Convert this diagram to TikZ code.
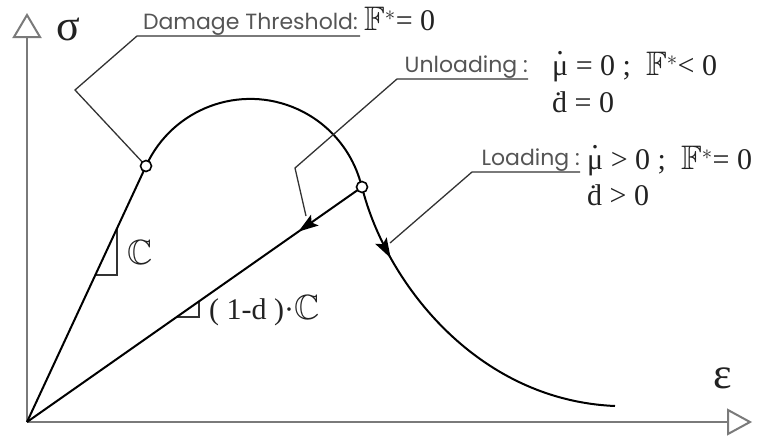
\documentclass[tikz,border=0pt]{standalone}
\usepackage{fontspec}
\usepackage{amssymb}
\setmainfont{Liberation Serif}
\newfontfamily\labelfont{Poppins}
\usetikzlibrary{arrows.meta,decorations.markings,calc}
\newcommand\dotch[1]{\ooalign{#1\cr\hidewidth\raisebox{0.68em}{.}\hidewidth\cr}}
\newcommand\bbF{{\fontsize{34}{36}\selectfont$\mathbb{F}$}}
\newcommand\bbC{{\fontsize{35}{36}\selectfont$\mathbb{C}$}}
\definecolor{axisgray}{HTML}{7A7A7A}
\definecolor{lblgray}{HTML}{555555}
\definecolor{mathgray}{HTML}{222222}
\definecolor{leadgray}{HTML}{333333}
\tikzset{
  axis/.style={draw=axisgray, line width=2pt, line join=miter},
  curve/.style={draw=black, line width=2pt},
  leader/.style={draw=leadgray, line width=1.3pt},
  lbl/.style={inner sep=0pt, text=lblgray, font=\labelfont\fontsize{22}{26}\selectfont},
  mth/.style={inner sep=0pt, text=mathgray, font=\fontsize{30}{34}\selectfont},
  big/.style={inner sep=0pt, text=mathgray, font=\fontsize{44}{48}\selectfont},
  pt/.style={circle, draw=black, line width=1.6pt, fill=white, minimum size=11pt, inner sep=0pt},
  stiff/.style={draw=leadgray, line width=1.3pt},
  midarrow/.style={postaction={decorate}, decoration={markings,
     mark=at position #1 with {\arrow{Stealth[length=20pt,width=13pt,inset=4pt]}}}}
}
\begin{document}
\begin{tikzpicture}[x=1pt,y=-1pt]
\useasboundingbox (0,0) rectangle (782,437);
% key points
\coordinate (O) at (27,422);
\coordinate (A) at (146,166);
\coordinate (B) at (362,187);
\coordinate (E) at (615,406);
% axes
\coordinate (ytip) at (27,15);
\coordinate (yb1) at (14,37);
\coordinate (yb2) at (40,37);
\coordinate (ybase) at (27,37);
\coordinate (xtip) at (750,422);
\coordinate (xb1) at (728,410);
\coordinate (xb2) at (728,434);
\coordinate (xbase) at (728,422);
\draw[axis] (O) -- (ybase);
\draw[axis] (O) -- (xbase);
\draw[axis, fill=white] (ytip) -- (yb1) -- (yb2) -- cycle;
\draw[axis, fill=white] (xtip) -- (xb1) -- (xb2) -- cycle;
\node[big, anchor=base west] (sig) at (56,40) {σ};
\node[big, anchor=base west] (eps) at (713,388) {ε};
% stiffness triangles
\coordinate (c1) at (117,228.3);
\coordinate (c2) at (117,275);
\coordinate (c3) at (95.2,275);
\draw[stiff] (c1) -- (c2) -- (c3);
\coordinate (d1) at (199,300.8);
\coordinate (d2) at (199,317);
\coordinate (d3) at (175.8,317);
\draw[stiff] (d1) -- (d2) -- (d3);
\node[mth, anchor=base west] (lC) at (127,264) {\bbC};
\node[mth, anchor=base west] (ldC) at (209,319) {( 1-d )·\bbC};
% curve
\draw[curve] (O) -- (A) arc[start angle=-155.5, end angle=-13.4, radius=114.6];
\draw[curve, midarrow=0.215] (B) .. controls (385,280) and (475,400) .. (E);
\draw[curve, midarrow=0.19] (B) -- (O);
% leaders
\coordinate (dt1) at (75,90);
\coordinate (dt2) at (137,36);
\coordinate (dt3) at (360,36);
\draw[leader] (A) -- (dt1) -- (dt2) -- (dt3);
\coordinate (u0) at (306,216);
\coordinate (u1) at (295,168);
\coordinate (u2) at (397,79);
\coordinate (u3) at (528,79);
\draw[leader] (u0) -- (u1) -- (u2) -- (u3);
\coordinate (l0) at (390,243);
\coordinate (l1) at (472,172);
\coordinate (l2) at (580,172);
\draw[leader] (l0) -- (l1) -- (l2);
% points
\node[pt] (pA) at (A) {};
\node[pt] (pB) at (B) {};
% labels
\node[lbl, anchor=base east] (dt) at (358,29) {Damage Threshold:};
\node[mth, anchor=base west] (dtm) at (364,30) {\bbF$^*$= 0};
\node[lbl, anchor=base east] (un) at (528,72) {Unloading :};
\node[mth, anchor=base west] (un1) at (552,75) {\dotch{μ} = 0 ;\ \ \bbF$^*$< 0};
\node[mth, anchor=base west] (un2) at (552,112) {ḋ = 0};
\node[lbl, anchor=base east] (lo) at (580,165) {Loading :};
\node[mth, anchor=base west] (lo1) at (587,169) {\dotch{μ} > 0 ;\ \ \bbF$^*$= 0};
\node[mth, anchor=base west] (lo2) at (587,205) {ḋ > 0};
\end{tikzpicture}
\end{document}
